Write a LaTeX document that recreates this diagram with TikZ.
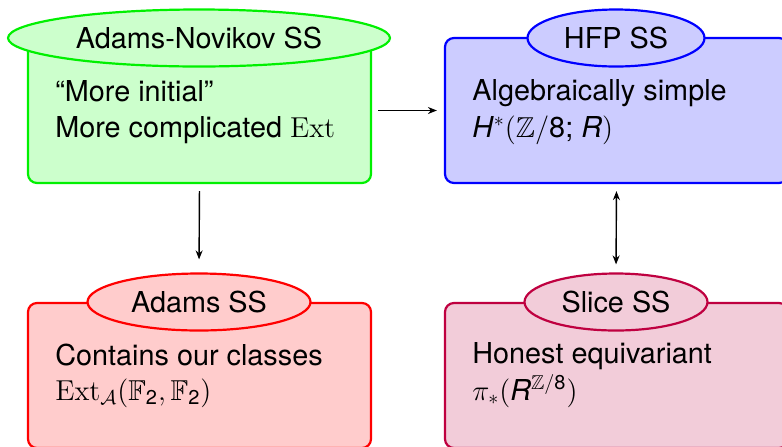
\RequirePackage{fix-cm}
\documentclass[tikz,border=0pt]{standalone}
\usepackage{amsmath,amssymb}
\usepackage[no-math]{fontspec}
\setmainfont{TeX Gyre Heros}
\usetikzlibrary{shapes.geometric,arrows.meta}
\tikzset{
  box/.style={draw, rounded corners=4.5pt, line width=1.1pt, minimum width=171.5pt, minimum height=72.5pt, inner sep=0pt},
  title/.style={ellipse, draw, line width=1.1pt, inner sep=0pt, minimum height=28.5pt, font=\fontsize{14.4}{17}\selectfont},
  body/.style={anchor=base west, inner sep=0pt, font=\fontsize{14.4}{17}\selectfont},
  conn/.style={line width=0.7pt, -{Stealth[length=4.5pt,width=3.5pt]}},
}
\begin{document}
\begin{tikzpicture}[x=0.5pt,y=-0.5pt]
\clip (0,0) rectangle (782,446);
\fill[white] (0,0) rectangle (782,446);
% boxes
\node[box, draw=green!90!black!60!green, fill=green!20] (anb) at (199.5,110.5) {};
\node[box, draw=blue, fill=blue!20] (hfb) at (616.5,110.5) {};
\node[box, draw=red, fill=red!20] (adb) at (199.5,375.5) {};
\node[box, draw=purple, fill=purple!20] (slb) at (616.5,375.5) {};
% titles
\node[title, draw=green!90!black!60!green, fill=green!20, minimum width=191pt] (ant) at (199,38) {Adams-Novikov SS};
\node[title, draw=blue, fill=blue!20, minimum width=88.5pt] (hft) at (616,38) {HFP SS};
\node[title, draw=red, fill=red!20, minimum width=111.5pt] (adt) at (199,302) {Adams SS};
\node[title, draw=purple, fill=purple!20, minimum width=91.5pt] (slt) at (616,302) {Slice SS};
% body text
\node[body] (an1) at (55,101) {“More initial”};
\node[body] (an2) at (55,137) {More complicated $\mathrm{Ext}$};
\node[body] (hf1) at (472,100) {Algebraically simple};
\node[body] (hf2) at (472,137) {\textit{H}$^*(\mathbb{Z}/$8; \textit{R}$)$};
\node[body] (ad1) at (55,365) {Contains our classes};
\node[body] (ad2) at (55,400) {$\mathrm{Ext}_{\mathcal{A}}(\mathbb{F}_{\text{2}},\mathbb{F}_{\text{2}})$};
\node[body] (sl1) at (472,363) {Honest equivariant};
\node[body] (sl2) at (472,400) {$\pi_*($\textit{R}$^{\mathbb{Z}/\text{8}})$};
% connectors
\draw[conn, shorten <=3pt, shorten >=3.5pt] (anb.east) -- (hfb.west);
\draw[conn, shorten <=3.5pt, shorten >=6.5pt] (anb.south) -- (adt.north);
\draw[conn, {Stealth[length=4.5pt,width=3.5pt]}-{Stealth[length=4.5pt,width=3.5pt]}, shorten <=3.5pt, shorten >=4pt] (hfb.south) -- (slt.north);
\end{tikzpicture}
\end{document}
